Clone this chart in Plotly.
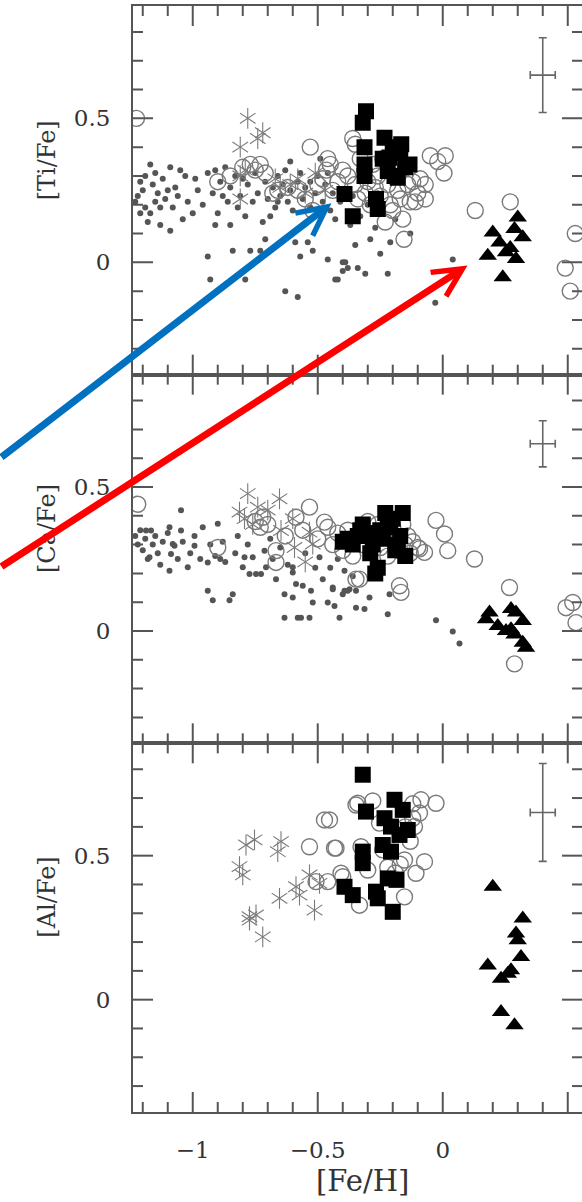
import plotly.graph_objects as go
from plotly.subplots import make_subplots

# ---------------- data ----------------
# [Ti/Fe] panel
ti_dot_x = [-1.23, -1.22, -1.21, -1.20, -1.19, -1.18, -1.17, -1.17, -1.16, -1.15, -1.15, -1.14, -1.13, -1.12,
            -1.11, -1.09, -1.09, -1.08, -1.07, -1.06, -1.04, -1.03, -1.02, -0.99, -0.98, -1.21, -1.19, -1.13,
            -1.10, -1.05, -1.00,
            -0.96, -0.94, -0.94, -0.93, -0.92, -0.91, -0.91, -0.90, -0.89, -0.87, -0.86, -0.85, -0.85, -0.84,
            -0.83, -0.82, -0.81, -0.79, -0.79, -0.78, -0.77, -0.76, -0.75, -0.74, -0.73, -0.72, -0.71, -0.71,
            -0.70, -0.88, -0.80, -0.69,
            -0.68, -0.67, -0.66, -0.65, -0.64, -0.63, -0.62, -0.61, -0.61, -0.60, -0.59, -0.58, -0.58, -0.57,
            -0.56, -0.55, -0.54, -0.53, -0.52, -0.51, -0.50, -0.49, -0.48, -0.47, -0.46, -0.45, -0.44, -0.43,
            -0.42, -0.41, -0.40, -0.40, -0.39, -0.38, -0.37, -0.35, -0.34, -0.33, -0.31, -0.29, -0.27, -0.25,
            -0.22, -0.21, -0.19, -0.13, -0.03, 0.04, -0.66, -0.63, -0.57, -0.53, -0.46, -0.43, -0.36, -0.30,
            -0.26]
ti_dot_y = [0.21, 0.23, 0.17, 0.25, 0.19, 0.14, 0.34, 0.17, 0.27, 0.31, 0.21, 0.24, 0.19, 0.29,
            0.22, 0.33, 0.11, 0.19, 0.26, 0.23, 0.15, 0.30, 0.21, 0.29, 0.25, 0.28, 0.30, 0.13,
            0.25, 0.32, 0.17,
            0.20, 0.31, 0.02, -0.06, 0.24, 0.13, 0.32, 0.17, 0.28, 0.33, 0.21, 0.13, 0.26, 0.04,
            0.30, 0.19, 0.23, 0.16, -0.06, 0.27, 0.04, 0.21, 0.31, 0.24, 0.04, 0.14, 0.08, 0.28,
            0.22, 0.23, 0.29, 0.16,
            0.26, 0.19, 0.30, 0.23, 0.27, -0.10, 0.21, 0.35, 0.25, 0.18, 0.07, -0.12, 0.28, 0.02,
            0.22, 0.26, 0.07, 0.19, 0.04, 0.24, 0.30, 0.36, 0.21, 0.27, 0.01, 0.18, 0.24, -0.06,
            -0.06, 0.21, 0.00, -0.03, 0.00, -0.02, 0.13, 0.06, -0.02, 0.16, -0.04, 0.08, 0.12, 0.03,
            -0.04, 0.07, 0.15, 0.10, -0.14, 0.01, 0.21, 0.32, 0.31, 0.28, 0.31, 0.15, 0.23, 0.20,
            0.24]

ti_circ_x = [-1.225, -0.90, -0.85, -0.80, -0.77, -0.75, -0.73, -0.71, -0.68, -0.66, -0.62, -0.58, -0.55, -0.53,
             -0.52, -0.50, -0.48, -0.46, -0.465, -0.45, -0.44, -0.42, -0.40, -0.38, -0.36, -0.35, -0.35, -0.34,
             -0.33, -0.31, -0.30, -0.29, -0.28, -0.27, -0.26, -0.25, -0.24, -0.23, -0.22, -0.21, -0.20, -0.19,
             -0.18, -0.17, -0.16, -0.155, -0.15, -0.14, -0.13, -0.12, -0.11, -0.10, -0.09, -0.07, -0.07, -0.05,
             -0.02, 0.01, 0.005, 0.13, 0.27, 0.53, 0.49, 0.51]
ti_circ_y = [0.50, 0.28, 0.30, 0.33, 0.34, 0.32, 0.34, 0.31, 0.24, 0.25, 0.26, 0.25, 0.22, 0.40,
             0.18, 0.27, 0.29, 0.36, 0.32, 0.34, 0.25, 0.28, 0.32, 0.30, 0.43, 0.41, 0.27, 0.22,
             0.36, 0.24, 0.28, 0.20, 0.34, 0.26, 0.30, 0.23, 0.36, 0.14, 0.27, 0.20, 0.18, 0.31,
             0.25, 0.22, 0.15, 0.08, 0.33, 0.27, 0.21, 0.28, 0.21, 0.24, 0.29, 0.27, 0.22, 0.37,
             0.35, 0.37, 0.31, 0.18, 0.21, 0.10, -0.02, -0.10]

ti_star_x = [-0.78, -0.72, -0.74, -0.81, -0.79, -0.81, -0.65, -0.67, -0.61, -0.55, -0.51, -0.81, -0.58, -0.47]
ti_star_y = [0.50, 0.45, 0.43, 0.40, 0.32, 0.30, 0.26, 0.29, 0.27, 0.24, 0.31, 0.22, 0.29, 0.25]

ti_sq_x = [-0.307, -0.32, -0.313, -0.313, -0.313, -0.233, -0.166, -0.213, -0.133, -0.22, -0.18, -0.393,
           -0.36, -0.267, -0.26, -0.193, -0.17, -0.15, -0.24, -0.20]
ti_sq_y = [0.525, 0.485, 0.40, 0.34, 0.30, 0.433, 0.41, 0.364, 0.34, 0.317, 0.294, 0.237,
           0.16, 0.22, 0.185, 0.30, 0.38, 0.33, 0.36, 0.40]

ti_tri_x = [0.20, 0.30, 0.32, 0.227, 0.18, 0.253, 0.293, 0.24, 0.287, 0.27]
ti_tri_y = [0.104, 0.156, 0.087, 0.069, 0.023, 0.035, 0.012, -0.052, 0.116, 0.05]

# [Ca/Fe] panel
ca_dot_x = [-1.23, -1.22, -1.21, -1.20, -1.19, -1.187, -1.18, -1.173, -1.167, -1.16, -1.15, -1.14, -1.13, -1.12,
            -1.10, -1.093, -1.093, -1.087, -1.08, -1.073, -1.06, -1.047, -1.047, -1.04, -1.02, -1.01, -0.993,
            -0.993, -0.97, -0.96, -0.94, -0.94, -0.93, -0.92, -0.91, -0.90, -0.89, -0.88, -0.87, -0.853, -0.84,
            -0.83, -0.82, -0.80, -0.793, -0.78, -0.773, -0.76, -0.747, -0.727, -0.713, -0.707, -0.69, -0.68,
            -0.667, -0.65, -0.633, -0.633, -0.62, -0.60, -0.60, -0.60, -0.587, -0.58, -0.567, -0.56, -0.55,
            -0.533, -0.527, -0.52, -0.51, -0.493, -0.48, -0.46, -0.45, -0.44, -0.44, -0.433, -0.413, -0.40,
            -0.393, -0.393, -0.38, -0.373, -0.347, -0.347, -0.313, -0.293, -0.22, -0.213, -0.027, 0.04, 0.067,
            -0.42, -0.36]
ca_dot_y = [0.33, 0.30, 0.35, 0.28, 0.32, 0.349, 0.25, 0.256, 0.349, 0.30, 0.33, 0.27, 0.23, 0.31,
            0.34, 0.36, 0.209, 0.267, 0.302, 0.296, 0.25, 0.419, 0.349, 0.31, 0.221, 0.27, 0.296,
            0.33, 0.25, 0.36, 0.238, 0.14, 0.30, 0.107, 0.26, 0.372, 0.25, 0.31, 0.24, 0.107, 0.128,
            0.27, 0.33, 0.221, 0.256, 0.30, 0.198, 0.256, 0.198, 0.198, 0.279, 0.221, 0.32, 0.25,
            0.18, 0.29, 0.128, 0.046, 0.23, 0.116, 0.221, 0.203, 0.163, 0.046, 0.046, 0.157, 0.27,
            0.046, 0.14, 0.099, 0.22, 0.256, 0.18, 0.099, 0.22, 0.145, 0.151, 0.087, 0.046, 0.128,
            0.14, 0.209, 0.14, 0.145, 0.14, 0.081, 0.076, 0.116, 0.058, 0.128, 0.037, -0.002, -0.043,
            0.25, 0.19]

ca_circ_x = [-1.22, -0.90, -0.75, -0.73, -0.72, -0.70, -0.667, -0.667, -0.63, -0.587, -0.56, -0.533, -0.50,
             -0.473, -0.46, -0.44, -0.42, -0.347, -0.333, -0.36, -0.32, -0.30, -0.28, -0.26, -0.25, -0.23,
             -0.22, -0.20, -0.19, -0.18, -0.173, -0.167, -0.16, -0.15, -0.14, -0.13, -0.12, -0.10, -0.093,
             -0.073, -0.027, 0.007, 0.02, 0.127, 0.267, 0.287, 0.493, 0.52, 0.533, -0.38, -0.40]
ca_circ_y = [0.44, 0.29, 0.38, 0.36, 0.395, 0.37, 0.279, 0.238, 0.33, 0.395, 0.35, 0.43, 0.32,
             0.378, 0.36, 0.30, 0.34, 0.18, 0.18, 0.26, 0.30, 0.38, 0.33, 0.37, 0.29, 0.33,
             0.26, 0.36, 0.31, 0.28, 0.157, 0.134, 0.37, 0.30, 0.33, 0.27, 0.31, 0.29, 0.285,
             0.273, 0.384, 0.337, 0.279, 0.25, 0.151, -0.114, 0.081, 0.099, 0.029, 0.35, 0.28]

ca_star_x = [-0.78, -0.653, -0.74, -0.813, -0.793, -0.70, -0.647, -0.593, -0.533, -0.52, -0.76, -0.60, -0.55]
ca_star_y = [0.477, 0.459, 0.43, 0.413, 0.39, 0.42, 0.349, 0.29, 0.343, 0.302, 0.37, 0.39, 0.24]

ca_sq_x = [-0.40, -0.38, -0.36, -0.33, -0.32, -0.30, -0.28, -0.26, -0.27, -0.25, -0.23, -0.22, -0.20,
           -0.19, -0.17, -0.16, -0.15, -0.24, -0.29, -0.21, -0.18, -0.34]
ca_sq_y = [0.31, 0.32, 0.30, 0.35, 0.37, 0.34, 0.30, 0.22, 0.20, 0.35, 0.41, 0.38, 0.39,
           0.28, 0.33, 0.41, 0.26, 0.32, 0.27, 0.36, 0.30, 0.33]

ca_tri_x = [0.187, 0.173, 0.273, 0.293, 0.32, 0.22, 0.253, 0.287, 0.32, 0.333, 0.273]
ca_tri_y = [0.064, 0.041, 0.076, 0.064, 0.035, 0.017, 0.0, -0.012, -0.041, -0.058, 0.006]

# [Al/Fe] panel
al_circ_x = [-0.473, -0.453, -0.533, -0.427, -0.347, -0.34, -0.46, -0.40, -0.507, -0.087, -0.027, -0.093,
             -0.113, -0.433, -0.327, -0.073, -0.107, -0.153, -0.407, -0.153, -0.333, -0.253, -0.22, -0.19,
             -0.17, -0.13, -0.12, -0.28, -0.30, -0.24, -0.15, -0.12]
al_circ_y = [0.624, 0.624, 0.531, 0.526, 0.676, 0.682, 0.41, 0.427, 0.41, 0.694, 0.682, 0.648,
             0.601, 0.526, 0.531, 0.479, 0.439, 0.485, 0.439, 0.357, 0.328, 0.613, 0.46, 0.44,
             0.47, 0.55, 0.63, 0.69, 0.45, 0.52, 0.60, 0.68]

al_star_x = [-0.753, -0.787, -0.647, -0.66, -0.813, -0.80, -0.533, -0.493, -0.587, -0.573, -0.653, -0.513,
             -0.773, -0.747, -0.72, -0.773]
al_star_y = [0.555, 0.537, 0.549, 0.514, 0.462, 0.433, 0.433, 0.404, 0.392, 0.363, 0.352, 0.311,
             0.288, 0.294, 0.218, 0.276]

al_sq_x = [-0.32, -0.193, -0.307, -0.16, -0.233, -0.207, -0.14, -0.173, -0.24, -0.207, -0.32, -0.32,
           -0.22, -0.393, -0.36, -0.267, -0.26, -0.20, -0.185]
al_sq_y = [0.781, 0.694, 0.653, 0.659, 0.63, 0.601, 0.589, 0.572, 0.537, 0.514, 0.514, 0.474,
           0.421, 0.392, 0.363, 0.375, 0.352, 0.305, 0.416]

al_tri_x = [0.20, 0.32, 0.293, 0.30, 0.313, 0.18, 0.273, 0.233, 0.233, 0.287, 0.26]
al_tri_y = [0.392, 0.282, 0.23, 0.206, 0.148, 0.119, 0.102, 0.073, -0.043, -0.089, 0.09]

# typical uncertainties shown in the upper right of each panel
err_x = [0.40, 0.40, 0.40]
err_y = [0.65, 0.65, 0.65]
err_dx = [0.05, 0.05, 0.05]
err_dy = [0.13, 0.08, 0.17]

panel_titles = ["[Ti/Fe]", "[Ca/Fe]", "[Al/Fe]"]
x_title = "[Fe/H]"

# arrow tips (top panel coordinates)
blue_tip = (-0.445, 0.205)
red_tip = (0.099, -0.011)

X_RANGE = [-1.239, 0.557]
Y_RANGE = [-0.39, 0.89]

# tick marks every 0.1 (in tenths), long ones on multiples of 0.5
x_tick_tenths = list(range(-12, 6))
y_tick_tenths = list(range(-3, 9))

# ---------------- styling ----------------
AX = "#555555"
FONT = "DejaVu Serif"
GREY = "#7a7a7a"
DOT = "#555555"
W, H = 582, 1202
M_L, M_R, M_T, M_B = 133, 0, 6, 90
MAJOR_LEN, MINOR_LEN = 20, 10

fig = make_subplots(rows=3, cols=1, shared_xaxes=True, vertical_spacing=0)

groups = [
    (ti_dot_x, ti_dot_y, ti_circ_x, ti_circ_y, ti_star_x, ti_star_y, ti_sq_x, ti_sq_y, ti_tri_x, ti_tri_y),
    (ca_dot_x, ca_dot_y, ca_circ_x, ca_circ_y, ca_star_x, ca_star_y, ca_sq_x, ca_sq_y, ca_tri_x, ca_tri_y),
    (None, None, al_circ_x, al_circ_y, al_star_x, al_star_y, al_sq_x, al_sq_y, al_tri_x, al_tri_y),
]

for i, g in enumerate(groups):
    row = i + 1
    dx, dy, cx, cy, sx, sy, qx, qy, tx, ty = g
    if dx is not None:
        fig.add_trace(go.Scatter(x=dx, y=dy, mode="markers",
                                 marker=dict(size=6, color=DOT, line=dict(width=0))), row=row, col=1)
    fig.add_trace(go.Scatter(x=cx, y=cy, mode="markers",
                             marker=dict(symbol="circle-open", size=16, color=GREY,
                                         line=dict(width=1.4, color=GREY))), row=row, col=1)
    # six-armed asterisk built from two three-armed symbols
    for sym in ("y-up-open", "y-down-open"):
        fig.add_trace(go.Scatter(x=sx, y=sy, mode="markers",
                                 marker=dict(symbol=sym, size=13, color=GREY,
                                             line=dict(width=1.1, color=GREY))), row=row, col=1)
    fig.add_trace(go.Scatter(x=qx, y=qy, mode="markers",
                             marker=dict(symbol="square", size=16, color="black",
                                         line=dict(width=0))), row=row, col=1)
    fig.add_trace(go.Scatter(x=tx, y=ty, mode="markers",
                             marker=dict(symbol="triangle-up", size=16, color="black",
                                         line=dict(width=0))), row=row, col=1)
    fig.add_trace(go.Scatter(x=[err_x[i]], y=[err_y[i]], mode="markers",
                             marker=dict(size=2, color="rgba(0,0,0,0)"),
                             error_x=dict(type="data", array=[err_dx[i]], color="#666666",
                                          thickness=1.6, width=4),
                             error_y=dict(type="data", array=[err_dy[i]], color="#666666",
                                          thickness=1.6, width=4)), row=row, col=1)

# framed axes with labels; the inward tick marks are added as line shapes below
axis_common = dict(showline=True, linecolor=AX, linewidth=2, mirror=True, ticks="",
                   showgrid=False, zeroline=False, ticklabelstandoff=16,
                   tickfont=dict(family=FONT, size=23, color="#333333"))
fig.update_xaxes(range=X_RANGE, dtick=0.5, **axis_common)
fig.update_yaxes(range=Y_RANGE, dtick=0.5, **axis_common)

plot_h = H - M_T - M_B
plot_w = W - M_L - M_R
panel_h = plot_h / 3

shapes = []
for xa, ya in (("x", "y"), ("x2", "y2"), ("x3", "y3")):
    for k in x_tick_tenths:
        v = k / 10
        ln = (MAJOR_LEN if k % 5 == 0 else MINOR_LEN) / panel_h
        for y0, y1 in ((0, ln), (1, 1 - ln)):
            shapes.append(dict(type="line", xref=xa, yref=f"{ya} domain", x0=v, x1=v, y0=y0, y1=y1,
                               line=dict(color=AX, width=2), layer="above"))
    for k in y_tick_tenths:
        v = k / 10
        ln = (MAJOR_LEN if k % 5 == 0 else MINOR_LEN) / plot_w
        for x0, x1 in ((0, ln), (1, 1 - ln)):
            shapes.append(dict(type="line", xref=f"{xa} domain", yref=ya, x0=x0, x1=x1, y0=v, y1=v,
                               line=dict(color=AX, width=2), layer="above"))

# panel labels on the left
for i, t in enumerate(panel_titles):
    center = 1 - (i + 0.5) / 3 + 30 / plot_h
    fig.add_annotation(text=t, xref="paper", yref="paper", x=-86 / plot_w, y=center,
                       xanchor="center", yanchor="middle", textangle=-90, showarrow=False,
                       font=dict(family=FONT, size=24, color="#333333"))

fig.add_annotation(text=x_title, xref="paper", yref="paper",
                   x=(-0.32 - X_RANGE[0]) / (X_RANGE[1] - X_RANGE[0]), y=-69 / plot_h,
                   xanchor="center", yanchor="middle", showarrow=False,
                   font=dict(family=FONT, size=29, color="#333333"))

# highlight arrows pointing at the two groups
fig.add_annotation(x=blue_tip[0], y=blue_tip[1], xref="x", yref="y", text="",
                   axref="pixel", ayref="pixel", ax=-360, ay=255, showarrow=True,
                   arrowhead=5, arrowsize=0.8, arrowwidth=7, arrowcolor="#0070C0")
fig.add_annotation(x=red_tip[0], y=red_tip[1], xref="x", yref="y", text="",
                   axref="pixel", ayref="pixel", ax=-500, ay=302, showarrow=True,
                   arrowhead=5, arrowsize=0.8, arrowwidth=7, arrowcolor="#FF0000")

fig.update_layout(width=W, height=H, showlegend=False, template="none",
                  margin=dict(l=M_L, r=M_R, t=M_T, b=M_B),
                  paper_bgcolor="white", plot_bgcolor="white", shapes=shapes)

fig.write_html("out.html", config={"displayModeBar": False})
